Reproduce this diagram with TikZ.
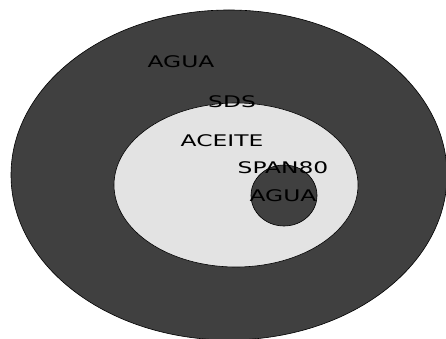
\documentclass[tikz,border=0pt]{standalone}
\usepackage{fontspec}
\setmainfont{DejaVu Sans}
\definecolor{darkfill}{HTML}{404040}
\definecolor{lightfill}{HTML}{E3E3E3}
\tikzset{
  blob/.style={draw=black, line width=0.6pt},
  lbl/.style={inner sep=0pt, font=\fontsize{16}{16}\selectfont, text=black},
}
\newcommand{\wide}[1]{\scalebox{1.46}[1]{#1}}
\begin{document}
\begin{tikzpicture}[x=1pt,y=-1pt]
\useasboundingbox (0,0) rectangle (446,339);
\clip (0,0) rectangle (446,339);
\fill[white] (0,0) rectangle (446,339);
\draw[blob, fill=darkfill] (229,175) ellipse [x radius=218, y radius=165];
\draw[blob, fill=lightfill] (236,185) ellipse [x radius=122, y radius=82];
\draw[blob, fill=darkfill] (284,195.5) ellipse [x radius=33, y radius=30.5];
\node[lbl] (agua1) at (181,62) {\wide{AGUA}};
\node[lbl] (sds) at (232,102) {\wide{SDS}};
\node[lbl] (aceite) at (222,141) {\wide{ACEITE}};
\node[lbl] (span) at (283,167.5) {\wide{SPAN80}};
\node[lbl] (agua2) at (283,196) {\wide{AGUA}};
\end{tikzpicture}
\end{document}
